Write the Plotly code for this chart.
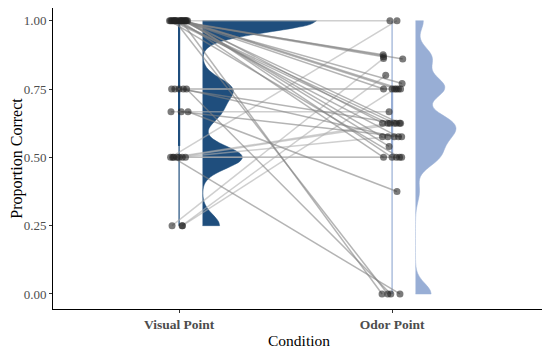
import numpy as np
import plotly.graph_objects as go

CONDITIONS = ['Visual Point', 'Odor Point']
Y_TICKS = [0.0, 0.25, 0.5, 0.75, 1.0]

# proportion correct per subject (paired)
visual = [1.0, 1.0, 1.0, 1.0, 1.0, 1.0, 1.0, 1.0, 1.0, 1.0,
          1.0, 1.0, 1.0, 1.0, 1.0, 1.0, 1.0, 1.0, 1.0, 1.0,
          0.75, 0.75, 0.75, 0.75, 0.75,
          0.667, 0.667, 0.667,
          0.5, 0.5, 0.5, 0.5, 0.5, 0.5, 0.5,
          0.25, 0.25, 0.25]
odor = [1.0, 0.875, 0.868, 0.86, 0.77, 0.75, 0.75, 0.75, 0.625, 0.625,
        0.625, 0.625, 0.575, 0.575, 0.5, 0.5, 0.5, 0.54, 0.0, 0.0,
        0.75, 0.75, 0.625, 0.575, 0.0,
        0.667, 0.575, 0.375,
        1.0, 0.625, 0.625, 0.575, 0.5, 0.5, 0.0,
        0.862, 0.80, 0.75]

# horizontal jitter
visual_jit = [-0.04, -0.03, -0.02, -0.01, 0.0, 0.01, 0.02, 0.03, 0.035, -0.035,
              -0.025, 0.015, 0.025, -0.015, 0.005, 0.04, -0.045, 0.03, 0.01, -0.02,
              -0.035, -0.02, 0.0, 0.02, 0.035,
              -0.038, 0.01, 0.042,
              -0.04, -0.025, -0.01, 0.0, 0.015, 0.03, -0.03,
              -0.033, 0.014, 0.016]
odor_jit = [-0.01, -0.042, -0.04, 0.05, 0.047, -0.04, 0.02, 0.04, -0.045, -0.02,
            0.01, 0.035, -0.045, 0.03, -0.04, 0.0, 0.035, -0.014, -0.047, -0.02,
            0.0, 0.03, 0.02, 0.01, -0.006,
            -0.014, 0.045, 0.023,
            0.023, -0.01, 0.04, -0.02, 0.02, 0.045, 0.037,
            -0.04, -0.03, 0.012]

DARK_BLUE = '#1f4e7d'
LIGHT_BLUE = '#98aed5'
FONT = 'Liberation Serif, Times New Roman, serif'

fig = go.Figure()

# half violins
fig.add_trace(go.Violin(y=visual, x0=1.11, side='positive', width=1.07, scalemode='width',
                        bandwidth=0.04, spanmode='hard', points=False,
                        fillcolor=DARK_BLUE, line=dict(color=DARK_BLUE, width=0.5),
                        opacity=1, hoverinfo='skip', showlegend=False))
fig.add_trace(go.Violin(y=odor, x0=2.11, side='positive', width=0.38, scalemode='width',
                        bandwidth=0.038, spanmode='hard', points=False,
                        fillcolor=LIGHT_BLUE, line=dict(color=LIGHT_BLUE, width=0.5),
                        opacity=1, hoverinfo='skip', showlegend=False))

# collapsed boxplots: whisker line + box line
for pos, vals, col in [(1, visual, DARK_BLUE), (2, odor, LIGHT_BLUE)]:
    q1, q3 = np.percentile(vals, [25, 75])
    fig.add_trace(go.Scatter(x=[pos, pos], y=[min(vals), max(vals)], mode='lines',
                             line=dict(color=col, width=1.2), hoverinfo='skip', showlegend=False))
    fig.add_trace(go.Scatter(x=[pos, pos], y=[q1, q3], mode='lines',
                             line=dict(color=col, width=2.2), hoverinfo='skip', showlegend=False))

# paired lines
down_x, down_y, other_x, other_y = [], [], [], []
for v, o, jv, jo in zip(visual, odor, visual_jit, odor_jit):
    if o < v:
        down_x += [1 + jv, 2 + jo, None]
        down_y += [v, o, None]
    else:
        other_x += [1 + jv, 2 + jo, None]
        other_y += [v, o, None]
fig.add_trace(go.Scatter(x=other_x, y=other_y, mode='lines',
                         line=dict(color='rgba(175,175,175,0.6)', width=1.5),
                         hoverinfo='skip', showlegend=False))
fig.add_trace(go.Scatter(x=down_x, y=down_y, mode='lines',
                         line=dict(color='rgba(130,130,130,0.6)', width=1.5),
                         hoverinfo='skip', showlegend=False))

# points
fig.add_trace(go.Scatter(x=[1 + j for j in visual_jit] + [2 + j for j in odor_jit],
                         y=visual + odor, mode='markers',
                         marker=dict(color='rgba(35,35,35,0.6)', size=7),
                         showlegend=False))

# page body has an 8px margin, so the figure is sized to the visible area
fig.update_layout(
    width=540, height=341,
    margin=dict(l=45, r=3, t=0, b=40),
    plot_bgcolor='white', paper_bgcolor='white',
    violinmode='overlay', violingap=0,
    font=dict(family=FONT, color='black'),
    xaxis=dict(range=[0.408, 2.718], tickvals=[1, 2], ticktext=['<b>%s</b>' % c for c in CONDITIONS],
               tickfont=dict(size=13.5, color='#4d4d4d'), showgrid=False, zeroline=False,
               showline=True, linecolor='black', linewidth=1, ticks='outside', ticklen=3,
               tickcolor='#333', automargin=False,
               title=dict(text='Condition', font=dict(size=15.5), standoff=3)),
    yaxis=dict(range=[-0.055, 1.0465], tickvals=Y_TICKS, ticktext=['%.2f' % t for t in Y_TICKS],
               tickfont=dict(size=13, color='#4d4d4d'), showgrid=False, zeroline=False,
               showline=True, linecolor='black', linewidth=1, ticks='outside', ticklen=3,
               tickcolor='#333', automargin=False,
               title=dict(text='Proportion Correct', font=dict(size=16), standoff=1)),
)

fig.write_html("out.html")
